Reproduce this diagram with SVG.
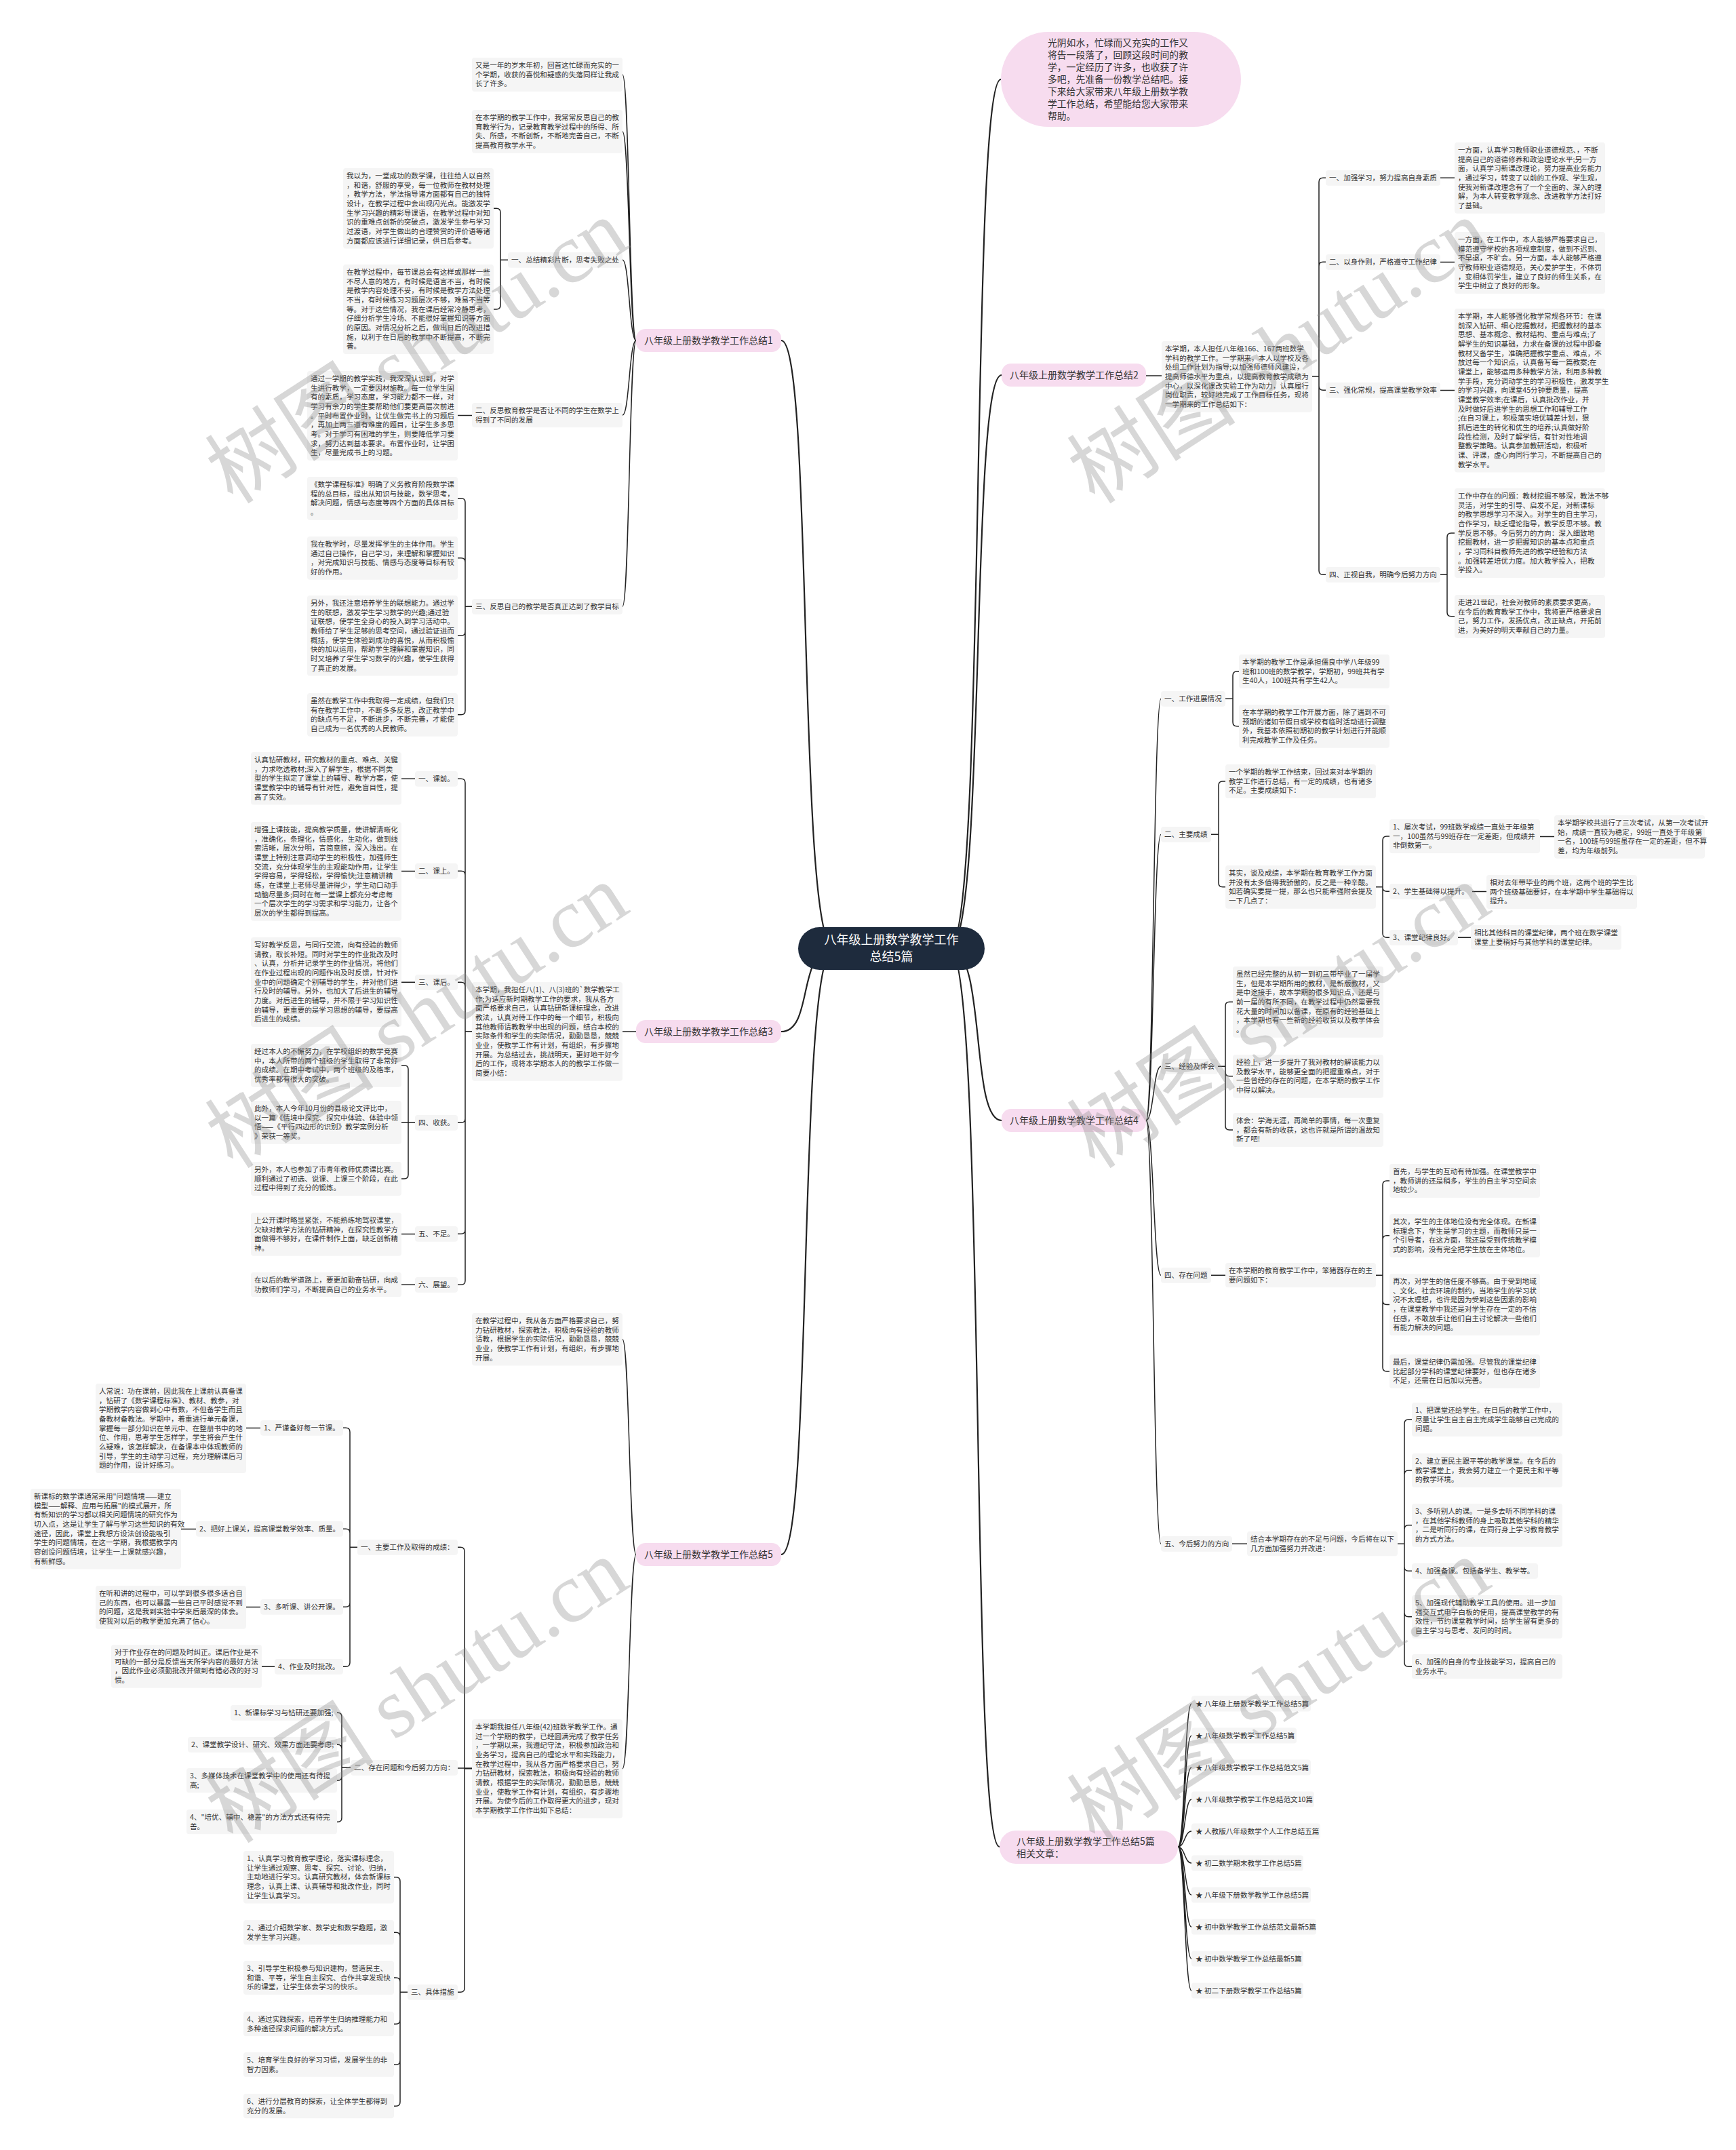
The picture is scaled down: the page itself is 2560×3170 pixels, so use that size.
<svg xmlns="http://www.w3.org/2000/svg" width="2560" height="3170" viewBox="0 0 2560 3170">
<style>
.b{fill:#f5f5f5}
.t{font-family:"Noto Sans CJK SC","Noto Sans",sans-serif;font-size:10.6px;fill:#333}
.n{fill:#f7dcef}
.nt{font-family:"Noto Sans CJK SC","Noto Sans",sans-serif;font-size:14px;fill:#333}
.c{fill:none;stroke:#222;stroke-width:1.5}
.cm{fill:none;stroke:#222;stroke-width:2.2}
.wm{font-family:"Liberation Serif","Noto Sans CJK SC",serif;font-size:125px;fill:#888;opacity:0.33}
</style>
<rect width="2560" height="3170" fill="#fff"/>
<g id="connectors">
<path class="cm" d="M1400 1398 C1455 1398 1430 117 1476 117"/>
<path class="cm" d="M1400 1398 C1455 1398 1430 553 1477 553"/>
<path class="cm" d="M1400 1398 C1455 1398 1430 1652 1477 1652"/>
<path class="cm" d="M1400 1398 C1455 1398 1430 2723 1474 2723"/>
<path class="cm" d="M1230 1398 C1175 1398 1200 502 1152 502"/>
<path class="cm" d="M1230 1398 C1175 1398 1200 1521 1152 1521"/>
<path class="cm" d="M1230 1398 C1175 1398 1200 2292 1152 2292"/>
<path class="c" d="M938 502 C928 502 928 110 918 110M938 502 C928 502 928 194 918 194M938 502 C928 502 928 383.3 918 383.3M938 502 C928 502 928 612 918 612M938 502 C928 502 928 894.3 918 894.3"/>
<path class="c" d="M749 383.3 H738 V313.2 Q738 307.2 732 307.2 H728M749 383.3 H738 V450 Q738 456 732 456 H728M696 612.5 H675"/>
<path class="c" d="M696 894.3 H686 V740.8 Q686 734.8 680 734.8 H675M696 894.3 H686 V828.8 Q686 822.8 680 822.8 H675M696 894.3 H686 V931.2 Q686 937.2 680 937.2 H675M696 894.3 H686 V1047.8 Q686 1053.8 680 1053.8 H675"/>
<path class="c" d="M938 1521 H918"/>
<path class="c" d="M696 1520.8 H686 V1154.3 Q686 1148.3 680 1148.3 H675M696 1520.8 H686 V1290.3 Q686 1284.3 680 1284.3 H675M696 1520.8 H686 V1454.3 Q686 1448.3 680 1448.3 H675M696 1520.8 H686 V1649.3 Q686 1655.3 680 1655.3 H675M696 1520.8 H686 V1813.3 Q686 1819.3 680 1819.3 H675M696 1520.8 H686 V1888.3 Q686 1894.3 680 1894.3 H675"/>
<path class="c" d="M612 1148.3 H592M612 1284.5 H592M612 1448.2 H592M612 1655.3 H602 V1576.8 Q602 1570.8 596 1570.8 H592M612 1655.3 H592M612 1655.3 H602 V1732 Q602 1738 596 1738 H592M612 1819.5 H592M612 1894.3 H592"/>
<path class="c" d="M938 2292 C928 2292 928 1974.7 918 1974.7M938 2292 C928 2292 928 2607.8 918 2607.8"/>
<path class="c" d="M696 2607.8 H685 V2287.3 Q685 2281.3 679 2281.3 H675M696 2607 H675M696 2607.8 H685 V2931.3 Q685 2937.3 679 2937.3 H675"/>
<path class="c" d="M527 2281.3 H516 V2111.3 Q516 2105.3 510 2105.3 H506M527 2281.3 H516 V2260.3 Q516 2254.3 510 2254.3 H506M527 2281.3 H516 V2363.3 Q516 2369.3 510 2369.3 H506M527 2281.3 H516 V2451.3 Q516 2457.3 510 2457.3 H506"/>
<path class="c" d="M384 2105.5 H363M289 2254.5 H267M384 2369.5 H363M405 2457.3 H386"/>
<path class="c" d="M517 2606.3 H504 V2531.3 Q504 2525.3 498 2525.3 H497M517 2606.3 H504 V2578.3 Q504 2572.3 498 2572.3 H497M517 2606.3 H504 V2619.2 Q504 2625.2 498 2625.2 H497M517 2606.3 H504 V2680.2 Q504 2686.2 498 2686.2 H497"/>
<path class="c" d="M601 2937.3 H590 V2773.7 Q590 2767.7 584 2767.7 H581M601 2937.3 H590 V2855.2 Q590 2849.2 584 2849.2 H581M601 2937.3 H590 V2922 Q590 2916 584 2916 H581M601 2937.3 H590 V2978.2 Q590 2984.2 584 2984.2 H581M601 2937.3 H590 V3038.2 Q590 3044.2 584 3044.2 H581M601 2937.3 H590 V3099.2 Q590 3105.2 584 3105.2 H581"/>
<path class="c" d="M1690 554 H1713"/>
<path class="c" d="M1935 555 H1945 V268.3 Q1945 262.3 1951 262.3 H1955M1935 555 H1945 V392.3 Q1945 386.3 1951 386.3 H1955M1935 555 H1945 V569.3 Q1945 575.3 1951 575.3 H1955M1935 555 H1945 V841.3 Q1945 847.3 1951 847.3 H1955"/>
<path class="c" d="M2124 262.3 H2145M2124 386.5 H2145M2124 575.5 H2145M2124 847.3 H2134 V792 Q2134 786 2140 786 H2145M2124 847.3 H2134 V902.8 Q2134 908.8 2140 908.8 H2145"/>
<path class="c" d="M1690 1652 C1701 1652 1701 1030.3 1712 1030.3M1690 1652 C1701 1652 1701 1230.3 1712 1230.3M1690 1652 C1701 1652 1701 1572.3 1712 1572.3M1690 1652 C1701 1652 1701 1880.3 1712 1880.3M1690 1652 C1701 1652 1701 2276.3 1712 2276.3"/>
<path class="c" d="M1807 1030.3 H1818 V996 Q1818 990 1824 990 H1827M1807 1030.3 H1818 V1064.8 Q1818 1070.8 1824 1070.8 H1827"/>
<path class="c" d="M1786 1230.3 H1797 V1158 Q1797 1152 1803 1152 H1807M1786 1230.3 H1797 V1301.8 Q1797 1307.8 1803 1307.8 H1807"/>
<path class="c" d="M2029 1307.8 H2039 V1239 Q2039 1233 2045 1233 H2049M2029 1307.8 H2039 V1308.3 Q2039 1314.3 2045 1314.3 H2049M2029 1307.8 H2039 V1376.3 Q2039 1382.3 2045 1382.3 H2049M2271 1233.5 H2292M2171 1314.6 H2192M2150 1382.3 H2169"/>
<path class="c" d="M1796 1572.3 H1807 V1483.3 Q1807 1477.3 1813 1477.3 H1818M1796 1572.3 H1807 V1580.8 Q1807 1586.8 1813 1586.8 H1818M1796 1572.3 H1807 V1660 Q1807 1666 1813 1666 H1818"/>
<path class="c" d="M1786 1880.3 H1807M2029 1880.2 H2039 V1747 Q2039 1741 2045 1741 H2049M2029 1880.2 H2039 V1827.8 Q2039 1821.8 2045 1821.8 H2049M2029 1880.2 H2039 V1917.5 Q2039 1923.5 2045 1923.5 H2049M2029 1880.2 H2039 V2016 Q2039 2022 2045 2022 H2049"/>
<path class="c" d="M1817 2276.3 H1839M2061 2276.2 H2071 V2099 Q2071 2093 2077 2093 H2082M2061 2276.2 H2071 V2174 Q2071 2168 2077 2168 H2082M2061 2276.2 H2071 V2254.8 Q2071 2248.8 2077 2248.8 H2082M2061 2276.2 H2071 V2310.3 Q2071 2316.3 2077 2316.3 H2082M2061 2276.2 H2071 V2377.8 Q2071 2383.8 2077 2383.8 H2082M2061 2276.2 H2071 V2451.2 Q2071 2457.2 2077 2457.2 H2082"/>
<path class="c" d="M1737 2723 C1747 2723 1747 2512 1757 2512M1737 2723 C1747 2723 1747 2559 1757 2559M1737 2723 C1747 2723 1747 2606 1757 2606M1737 2723 C1747 2723 1747 2653 1757 2653M1737 2723 C1747 2723 1747 2700 1757 2700M1737 2723 C1747 2723 1747 2747 1757 2747M1737 2723 C1747 2723 1747 2794 1757 2794M1737 2723 C1747 2723 1747 2841 1757 2841M1737 2723 C1747 2723 1747 2888 1757 2888M1737 2723 C1747 2723 1747 2935 1757 2935"/>
</g>

<g id="root"><rect x="1177" y="1367" width="275" height="63" rx="31.5" fill="#1e2b3d"/><text x="1314.5" y="1391.8" text-anchor="middle" font-family="Noto Sans CJK SC,sans-serif" font-size="18" fill="#fff"><tspan x="1314.5">八年级上册数学教学工作</tspan><tspan x="1314.5" dy="25">总结5篇</tspan></text></g>

<g id="intro"><rect x="1476" y="47" width="354" height="140" rx="70" class="n"/><text class="nt" x="1545" y="68" style="font-size:13.8px"><tspan x="1545">光阴如水，忙碌而又充实的工作又</tspan><tspan x="1545" dy="18">将告一段落了，回顾这段时间的教</tspan><tspan x="1545" dy="18">学，一定经历了许多，也收获了许</tspan><tspan x="1545" dy="18">多吧，先准备一份教学总结吧。接</tspan><tspan x="1545" dy="18">下来给大家带来八年级上册数学教</tspan><tspan x="1545" dy="18">学工作总结，希望能给您大家带来</tspan><tspan x="1545" dy="18">帮助。</tspan></text></g>

<g id="n1"><rect class="n" x="938" y="485" width="214" height="34" rx="14"/><text class="nt" x="950" y="507.3">八年级上册数学教学工作总结1</text></g>
<g id="n2"><rect class="n" x="1477" y="536" width="213" height="34" rx="14"/><text class="nt" x="1489" y="558.3">八年级上册数学教学工作总结2</text></g>
<g id="n3"><rect class="n" x="938" y="1504" width="214" height="34" rx="14"/><text class="nt" x="950" y="1526.3">八年级上册数学教学工作总结3</text></g>
<g id="n4"><rect class="n" x="1477" y="1635" width="213" height="34" rx="14"/><text class="nt" x="1489" y="1657.3">八年级上册数学教学工作总结4</text></g>
<g id="n5"><rect class="n" x="938" y="2275" width="214" height="34" rx="14"/><text class="nt" x="950" y="2297.3">八年级上册数学教学工作总结5</text></g>
<g id="n6"><rect class="n" x="1474" y="2699" width="263" height="49" rx="24"/><text class="nt" x="1499" y="2720.3"><tspan x="1499">八年级上册数学教学工作总结5篇</tspan><tspan x="1499" dy="18">相关文章：</tspan></text></g>

<g id="s1-p1"><rect class="b" x="696" y="85" width="222" height="50" rx="4"/><text class="t" x="701" y="100"><tspan x="701">又是一年的岁末年初，回首这忙碌而充实的一</tspan><tspan x="701" dy="13.67">个学期，收获的喜悦和疑惑的失落同样让我成</tspan><tspan x="701" dy="13.67">长了许多。</tspan></text></g>
<g id="s1-p2"><rect class="b" x="696" y="162" width="222" height="63.7" rx="4"/><text class="t" x="701" y="177"><tspan x="701">在本学期的教学工作中，我常常反思自己的教</tspan><tspan x="701" dy="13.67">育教学行为，记录教育教学过程中的所得、所</tspan><tspan x="701" dy="13.67">失、所感，不断创新，不断地完善自己，不断</tspan><tspan x="701" dy="13.67">提高教育教学水平。</tspan></text></g>
<g id="s1-l1"><rect class="b" x="749" y="372" width="169" height="22.7" rx="4"/><text class="t" x="754" y="387">一、总结精彩片断，思考失败之处</text></g>
<g id="s1-p3"><rect class="b" x="506" y="248" width="222" height="118.4" rx="4"/><text class="t" x="511" y="263"><tspan x="511">我以为，一堂成功的数学课，往往给人以自然</tspan><tspan x="511" dy="13.67">，和谐，舒服的享受，每一位教师在教材处理</tspan><tspan x="511" dy="13.67">，教学方法，学法指导诸方面都有自己的独特</tspan><tspan x="511" dy="13.67">设计，在教学过程中会出现闪光点。能激发学</tspan><tspan x="511" dy="13.67">生学习兴趣的精彩导课语，在教学过程中对知</tspan><tspan x="511" dy="13.67">识的重难点创新的突破点，激发学生参与学习</tspan><tspan x="511" dy="13.67">过渡语，对学生做出的合理赞赏的评价语等诸</tspan><tspan x="511" dy="13.67">方面都应该进行详细记录，供日后参考。</tspan></text></g>
<g id="s1-p4"><rect class="b" x="506" y="390" width="222" height="132" rx="4"/><text class="t" x="511" y="405"><tspan x="511">在教学过程中，每节课总会有这样或那样一些</tspan><tspan x="511" dy="13.67">不尽人意的地方，有时候是语言不当，有时候</tspan><tspan x="511" dy="13.67">是教学内容处理不妥，有时候是教学方法处理</tspan><tspan x="511" dy="13.67">不当，有时候练习习题层次不够，难易不当等</tspan><tspan x="511" dy="13.67">等。对于这些情况，我在课后经常冷静思考，</tspan><tspan x="511" dy="13.67">仔细分析学生冷场、不能很好掌握知识等方面</tspan><tspan x="511" dy="13.67">的原因。对情况分析之后，做出日后的改进措</tspan><tspan x="511" dy="13.67">施，以利于在日后的教学中不断提高，不断完</tspan><tspan x="511" dy="13.67">善。</tspan></text></g>
<g id="s1-l2"><rect class="b" x="696" y="594" width="222" height="36.3" rx="4"/><text class="t" x="701" y="609"><tspan x="701">二、反思教育教学是否让不同的学生在数学上</tspan><tspan x="701" dy="13.67">得到了不同的发展</tspan></text></g>
<g id="s1-p5"><rect class="b" x="453" y="547" width="222" height="132" rx="4"/><text class="t" x="458" y="562"><tspan x="458">通过一学期的教学实践，我深深认识到，对学</tspan><tspan x="458" dy="13.67">生进行教学，一定要因材施教。每一位学生固</tspan><tspan x="458" dy="13.67">有的素质，学习态度，学习能力都不一样，对</tspan><tspan x="458" dy="13.67">学习有余力的学生要帮助他们要更高层次前进</tspan><tspan x="458" dy="13.67">。平时布置作业时，让优生做完书上的习题后</tspan><tspan x="458" dy="13.67">，再加上两三道有难度的题目，让学生多多思</tspan><tspan x="458" dy="13.67">考。对于学习有困难的学生，则要降低学习要</tspan><tspan x="458" dy="13.67">求，努力达到基本要求。布置作业时，让学困</tspan><tspan x="458" dy="13.67">生，尽量完成书上的习题。</tspan></text></g>
<g id="s1-l3"><rect class="b" x="696" y="883" width="222" height="22.7" rx="4"/><text class="t" x="701" y="898">三、反思自己的教学是否真正达到了教学目标</text></g>
<g id="s1-p6"><rect class="b" x="453" y="703" width="222" height="63.7" rx="4"/><text class="t" x="458" y="718"><tspan x="458">《数学课程标准》明确了义务教育阶段数学课</tspan><tspan x="458" dy="13.67">程的总目标，提出从知识与技能，数学思考，</tspan><tspan x="458" dy="13.67">解决问题，情感与态度等四个方面的具体目标</tspan><tspan x="458" dy="13.67">。</tspan></text></g>
<g id="s1-p7"><rect class="b" x="453" y="791" width="222" height="63.7" rx="4"/><text class="t" x="458" y="806"><tspan x="458">我在教学时，尽量发挥学生的主体作用。学生</tspan><tspan x="458" dy="13.67">通过自己操作，自己学习，来理解和掌握知识</tspan><tspan x="458" dy="13.67">，对完成知识与技能、情感与态度等目标有较</tspan><tspan x="458" dy="13.67">好的作用。</tspan></text></g>
<g id="s1-p8"><rect class="b" x="453" y="878" width="222" height="118.4" rx="4"/><text class="t" x="458" y="893"><tspan x="458">另外，我还注意培养学生的联想能力。通过学</tspan><tspan x="458" dy="13.67">生的联想，激发学生学习数学的兴趣;通过验</tspan><tspan x="458" dy="13.67">证联想，使学生全身心的投入到学习活动中。</tspan><tspan x="458" dy="13.67">教师给了学生足够的思考空间，通过验证进而</tspan><tspan x="458" dy="13.67">概括，使学生体验到成功的喜悦，从而积极愉</tspan><tspan x="458" dy="13.67">快的加以运用，帮助学生理解和掌握知识，同</tspan><tspan x="458" dy="13.67">时又培养了学生学习数学的兴趣，使学生获得</tspan><tspan x="458" dy="13.67">了真正的发展。</tspan></text></g>
<g id="s1-p9"><rect class="b" x="453" y="1022" width="222" height="63.7" rx="4"/><text class="t" x="458" y="1037"><tspan x="458">虽然在教学工作中我取得一定成绩，但我们只</tspan><tspan x="458" dy="13.67">有在教学工作中，不断多多反思，改正教学中</tspan><tspan x="458" dy="13.67">的缺点与不足，不断进步，不断完善，才能使</tspan><tspan x="458" dy="13.67">自己成为一名优秀的人民教师。</tspan></text></g>

<g id="s3-p0"><rect class="b" x="696" y="1448" width="222" height="145.7" rx="4"/><text class="t" x="701" y="1463"><tspan x="701">本学期，我担任八(1)、八(3)班的`数学教学工</tspan><tspan x="701" dy="13.67">作;为适应新时期教学工作的要求，我从各方</tspan><tspan x="701" dy="13.67">面严格要求自己，认真钻研新课标理念，改进</tspan><tspan x="701" dy="13.67">教法，认真对待工作中的每一个细节，积极向</tspan><tspan x="701" dy="13.67">其他教师请教教学中出现的问题，结合本校的</tspan><tspan x="701" dy="13.67">实际条件和学生的实际情况，勤勤恳恳，兢兢</tspan><tspan x="701" dy="13.67">业业，使教学工作有计划，有组织，有步骤地</tspan><tspan x="701" dy="13.67">开展。为总结过去，挑战明天，更好地干好今</tspan><tspan x="701" dy="13.67">后的工作，现将本学期本人的的教学工作做一</tspan><tspan x="701" dy="13.67">简要小结：</tspan></text></g>
<g id="s3-l1"><rect class="b" x="612" y="1137" width="63" height="22.7" rx="4"/><text class="t" x="617" y="1152">一、课前。</text></g>
<g id="s3-l2"><rect class="b" x="612" y="1273" width="63" height="22.7" rx="4"/><text class="t" x="617" y="1288">二、课上。</text></g>
<g id="s3-l3"><rect class="b" x="612" y="1437" width="63" height="22.7" rx="4"/><text class="t" x="617" y="1452">三、课后。</text></g>
<g id="s3-l4"><rect class="b" x="612" y="1644" width="63" height="22.7" rx="4"/><text class="t" x="617" y="1659">四、收获。</text></g>
<g id="s3-l5"><rect class="b" x="612" y="1808" width="63" height="22.7" rx="4"/><text class="t" x="617" y="1823">五、不足。</text></g>
<g id="s3-l6"><rect class="b" x="612" y="1883" width="63" height="22.7" rx="4"/><text class="t" x="617" y="1898">六、展望。</text></g>
<g id="s3-p1"><rect class="b" x="370" y="1109" width="222" height="77.4" rx="4"/><text class="t" x="375" y="1124"><tspan x="375">认真钻研教材，研究教材的重点、难点、关键</tspan><tspan x="375" dy="13.67">，力求吃透教材;深入了解学生，根据不同类</tspan><tspan x="375" dy="13.67">型的学生拟定了课堂上的辅导、教学方案，使</tspan><tspan x="375" dy="13.67">课堂教学中的辅导有针对性，避免盲目性，提</tspan><tspan x="375" dy="13.67">高了实效。</tspan></text></g>
<g id="s3-p2"><rect class="b" x="370" y="1212" width="222" height="145.7" rx="4"/><text class="t" x="375" y="1227"><tspan x="375">增强上课技能，提高教学质量，使讲解清晰化</tspan><tspan x="375" dy="13.67">，准确化，条理化，情感化，生动化，做到线</tspan><tspan x="375" dy="13.67">索清晰，层次分明，言简意赅，深入浅出。在</tspan><tspan x="375" dy="13.67">课堂上特别注意调动学生的积极性，加强师生</tspan><tspan x="375" dy="13.67">交流，充分体现学生的主观能动作用，让学生</tspan><tspan x="375" dy="13.67">学得容易，学得轻松，学得愉快;注意精讲精</tspan><tspan x="375" dy="13.67">练，在课堂上老师尽量讲得少，学生动口动手</tspan><tspan x="375" dy="13.67">动脑尽量多;同时在每一堂课上都充分考虑每</tspan><tspan x="375" dy="13.67">一个层次学生的学习需求和学习能力，让各个</tspan><tspan x="375" dy="13.67">层次的学生都得到提高。</tspan></text></g>
<g id="s3-p3"><rect class="b" x="370" y="1382" width="222" height="132" rx="4"/><text class="t" x="375" y="1397"><tspan x="375">写好教学反思，与同行交流，向有经验的教师</tspan><tspan x="375" dy="13.67">请教，取长补短。同时对学生的作业批改及时</tspan><tspan x="375" dy="13.67">、认真，分析并记录学生的作业情况，将他们</tspan><tspan x="375" dy="13.67">在作业过程出现的问题作出及时反馈，针对作</tspan><tspan x="375" dy="13.67">业中的问题确定个别辅导的学生，并对他们进</tspan><tspan x="375" dy="13.67">行及时的辅导。另外，也加大了后进生的辅导</tspan><tspan x="375" dy="13.67">力度。对后进生的辅导，并不限于学习知识性</tspan><tspan x="375" dy="13.67">的辅导，更重要的是学习思想的辅导，要提高</tspan><tspan x="375" dy="13.67">后进生的成绩。</tspan></text></g>
<g id="s3-p4"><rect class="b" x="370" y="1539" width="222" height="63.7" rx="4"/><text class="t" x="375" y="1554"><tspan x="375">经过本人的不懈努力，在学校组织的数学竞赛</tspan><tspan x="375" dy="13.67">中，本人所带的两个班级的学生取得了非常好</tspan><tspan x="375" dy="13.67">的成绩。在期中考试中，两个班级的及格率，</tspan><tspan x="375" dy="13.67">优秀率都有很大的突破。</tspan></text></g>
<g id="s3-p5"><rect class="b" x="370" y="1623" width="222" height="63.7" rx="4"/><text class="t" x="375" y="1638"><tspan x="375">此外，本人今年10月份的县级论文评比中，</tspan><tspan x="375" dy="13.67">以一篇《情境中探究、探究中体验、体验中领</tspan><tspan x="375" dy="13.67">悟——《平行四边形的识别》教学案例分析</tspan><tspan x="375" dy="13.67">》荣获一等奖。</tspan></text></g>
<g id="s3-p6"><rect class="b" x="370" y="1713" width="222" height="50" rx="4"/><text class="t" x="375" y="1728"><tspan x="375">另外，本人也参加了市青年教师优质课比赛。</tspan><tspan x="375" dy="13.67">顺利通过了初选、说课、上课三个阶段，在此</tspan><tspan x="375" dy="13.67">过程中得到了充分的锻炼。</tspan></text></g>
<g id="s3-p7"><rect class="b" x="370" y="1788" width="222" height="63.7" rx="4"/><text class="t" x="375" y="1803"><tspan x="375">上公开课时略显紧张，不能熟练地驾驭课堂，</tspan><tspan x="375" dy="13.67">欠缺对教学方法的钻研精神，在探究性教学方</tspan><tspan x="375" dy="13.67">面做得不够好，在课件制作上面，缺乏创新精</tspan><tspan x="375" dy="13.67">神。</tspan></text></g>
<g id="s3-p8"><rect class="b" x="370" y="1876" width="222" height="36.3" rx="4"/><text class="t" x="375" y="1891"><tspan x="375">在以后的教学道路上，要更加勤奋钻研，向成</tspan><tspan x="375" dy="13.67">功教师们学习，不断提高自己的业务水平。</tspan></text></g>

<g id="s5-p1"><rect class="b" x="696" y="1936" width="222" height="77.4" rx="4"/><text class="t" x="701" y="1951"><tspan x="701">在教学过程中，我从各方面严格要求自己，努</tspan><tspan x="701" dy="13.67">力钻研教材，探索教法，积极向有经验的教师</tspan><tspan x="701" dy="13.67">请教，根据学生的实际情况，勤勤恳恳，兢兢</tspan><tspan x="701" dy="13.67">业业，使教学工作有计划，有组织，有步骤地</tspan><tspan x="701" dy="13.67">开展。</tspan></text></g>
<g id="s5-p2"><rect class="b" x="696" y="2535" width="222" height="145.7" rx="4"/><text class="t" x="701" y="2550"><tspan x="701">本学期我担任八年级(42)班数学教学工作。通</tspan><tspan x="701" dy="13.67">过一个学期的教学，已经圆满完成了教学任务</tspan><tspan x="701" dy="13.67">，一学期以来，我遵纪守法，积极参加政治和</tspan><tspan x="701" dy="13.67">业务学习，提高自己的理论水平和实践能力，</tspan><tspan x="701" dy="13.67">在教学过程中，我从各方面严格要求自己，努</tspan><tspan x="701" dy="13.67">力钻研教材，探索教法，积极向有经验的教师</tspan><tspan x="701" dy="13.67">请教，根据学生的实际情况，勤勤恳恳，兢兢</tspan><tspan x="701" dy="13.67">业业，使教学工作有计划，有组织，有步骤地</tspan><tspan x="701" dy="13.67">开展。为使今后的工作取得更大的进步，现对</tspan><tspan x="701" dy="13.67">本学期教学工作作出如下总结：</tspan></text></g>
<g id="s5-l1"><rect class="b" x="527" y="2270" width="148" height="22.7" rx="4"/><text class="t" x="532" y="2285">一、主要工作及取得的成绩：</text></g>
<g id="s5-l2"><rect class="b" x="517" y="2595" width="158" height="22.7" rx="4"/><text class="t" x="522" y="2610">二、存在问题和今后努力方向：</text></g>
<g id="s5-l3"><rect class="b" x="601" y="2926" width="74" height="22.7" rx="4"/><text class="t" x="606" y="2941">三、具体措施</text></g>
<g id="s5-l1-1"><rect class="b" x="384" y="2094" width="122" height="22.7" rx="4"/><text class="t" x="389" y="2109">1、严谨备好每一节课。</text></g>
<g id="s5-l1-2"><rect class="b" x="289" y="2243" width="217" height="22.7" rx="4"/><text class="t" x="294" y="2258">2、把好上课关，提高课堂教学效率、质量。</text></g>
<g id="s5-l1-3"><rect class="b" x="384" y="2358" width="122" height="22.7" rx="4"/><text class="t" x="389" y="2373">3、多听课、讲公开课。</text></g>
<g id="s5-l1-4"><rect class="b" x="405" y="2446" width="101" height="22.7" rx="4"/><text class="t" x="410" y="2461">4、作业及时批改。</text></g>
<g id="s5-p3"><rect class="b" x="141" y="2040" width="222" height="132" rx="4"/><text class="t" x="146" y="2055"><tspan x="146">人常说：功在课前，因此我在上课前认真备课</tspan><tspan x="146" dy="13.67">，钻研了《数学课程标准》、教材、教参，对</tspan><tspan x="146" dy="13.67">学期教学内容做到心中有数，不但备学生而且</tspan><tspan x="146" dy="13.67">备教材备教法。学期中，着重进行单元备课，</tspan><tspan x="146" dy="13.67">掌握每一部分知识在单元中、在整册书中的地</tspan><tspan x="146" dy="13.67">位、作用，思考学生怎样学，学生将会产生什</tspan><tspan x="146" dy="13.67">么疑难，该怎样解决，在备课本中体现教师的</tspan><tspan x="146" dy="13.67">引导，学生的主动学习过程，充分理解课后习</tspan><tspan x="146" dy="13.67">题的作用，设计好练习。</tspan></text></g>
<g id="s5-p4"><rect class="b" x="45" y="2195" width="222" height="118.4" rx="4"/><text class="t" x="50" y="2210"><tspan x="50">新课标的数学课通常采用"问题情境——建立</tspan><tspan x="50" dy="13.67">模型——解释、应用与拓展"的模式展开，所</tspan><tspan x="50" dy="13.67">有新知识的学习都以相关问题情境的研究作为</tspan><tspan x="50" dy="13.67">切入点，这是让学生了解与学习这些知识的有效</tspan><tspan x="50" dy="13.67">途径，因此，课堂上我想方设法创设能吸引</tspan><tspan x="50" dy="13.67">学生的问题情境，在这一学期，我根据教学内</tspan><tspan x="50" dy="13.67">容创设问题情境，让学生一上课就感兴趣，</tspan><tspan x="50" dy="13.67">有新鲜感。</tspan></text></g>
<g id="s5-p5"><rect class="b" x="141" y="2338" width="222" height="63.7" rx="4"/><text class="t" x="146" y="2353"><tspan x="146">在听和讲的过程中，可以学到很多很多适合自</tspan><tspan x="146" dy="13.67">己的东西，也可以暴露一些自己平时感觉不到</tspan><tspan x="146" dy="13.67">的问题，这是我到实验中学来后最深的体会。</tspan><tspan x="146" dy="13.67">使我对以后的教学更加充满了信心。</tspan></text></g>
<g id="s5-p6"><rect class="b" x="164" y="2425" width="222" height="63.7" rx="4"/><text class="t" x="169" y="2440"><tspan x="169">对于作业存在的问题及时纠正。课后作业是不</tspan><tspan x="169" dy="13.67">可缺的一部分是反馈当天所学内容的最好方法</tspan><tspan x="169" dy="13.67">，因此作业必须勤批改并做到有错必改的好习</tspan><tspan x="169" dy="13.67">惯。</tspan></text></g>
<g id="s5-l2-1"><rect class="b" x="340" y="2514" width="157" height="22.7" rx="4"/><text class="t" x="345" y="2529">1、新课标学习与钻研还要加强;</text></g>
<g id="s5-l2-2"><rect class="b" x="277" y="2561" width="220" height="22.7" rx="4"/><text class="t" x="282" y="2576">2、课堂教学设计、研究、效果方面还要考虑;</text></g>
<g id="s5-l2-3"><rect class="b" x="275" y="2607" width="222" height="36.3" rx="4"/><text class="t" x="280" y="2622"><tspan x="280">3、多媒体技术在课堂教学中的使用还有待提</tspan><tspan x="280" dy="13.67">高;</tspan></text></g>
<g id="s5-l2-4"><rect class="b" x="275" y="2668" width="222" height="36.3" rx="4"/><text class="t" x="280" y="2683"><tspan x="280">4、"培优、辅中、稳差"的方法方式还有待完</tspan><tspan x="280" dy="13.67">善。</tspan></text></g>
<g id="s5-m1"><rect class="b" x="359" y="2729" width="222" height="77.4" rx="4"/><text class="t" x="364" y="2744"><tspan x="364">1、认真学习教育教学理论，落实课标理念，</tspan><tspan x="364" dy="13.67">让学生通过观察、思考、探究、讨论、归纳，</tspan><tspan x="364" dy="13.67">主动地进行学习。认真研究教材，体会新课标</tspan><tspan x="364" dy="13.67">理念，认真上课、认真辅导和批改作业，同时</tspan><tspan x="364" dy="13.67">让学生认真学习。</tspan></text></g>
<g id="s5-m2"><rect class="b" x="359" y="2831" width="222" height="36.3" rx="4"/><text class="t" x="364" y="2846"><tspan x="364">2、通过介绍数学家、数学史和数学趣题，激</tspan><tspan x="364" dy="13.67">发学生学习兴趣。</tspan></text></g>
<g id="s5-m3"><rect class="b" x="359" y="2891" width="222" height="50" rx="4"/><text class="t" x="364" y="2906"><tspan x="364">3、引导学生积极参与知识建构，营造民主、</tspan><tspan x="364" dy="13.67">和谐、平等，学生自主探究、合作共享发现快</tspan><tspan x="364" dy="13.67">乐的课堂，让学生体会学习的快乐。</tspan></text></g>
<g id="s5-m4"><rect class="b" x="359" y="2966" width="222" height="36.3" rx="4"/><text class="t" x="364" y="2981"><tspan x="364">4、通过实践探索，培养学生归纳推理能力和</tspan><tspan x="364" dy="13.67">多种途径探求问题的解决方式。</tspan></text></g>
<g id="s5-m5"><rect class="b" x="359" y="3026" width="222" height="36.3" rx="4"/><text class="t" x="364" y="3041"><tspan x="364">5、培育学生良好的学习习惯，发展学生的非</tspan><tspan x="364" dy="13.67">智力因素。</tspan></text></g>
<g id="s5-m6"><rect class="b" x="359" y="3087" width="222" height="36.3" rx="4"/><text class="t" x="364" y="3102"><tspan x="364">6、进行分层教育的探索，让全体学生都得到</tspan><tspan x="364" dy="13.67">充分的发展。</tspan></text></g>

<g id="s2-p0"><rect class="b" x="1713" y="503" width="222" height="104.7" rx="4"/><text class="t" x="1718" y="518"><tspan x="1718">本学期，本人担任八年级166、167两班数学</tspan><tspan x="1718" dy="13.67">学科的教学工作。一学期来，本人以学校及各</tspan><tspan x="1718" dy="13.67">处组工作计划为指导;以加强师德师风建设，</tspan><tspan x="1718" dy="13.67">提高师德水平为重点，以提高教育教学成绩为</tspan><tspan x="1718" dy="13.67">中心，以深化课改实验工作为动力，认真履行</tspan><tspan x="1718" dy="13.67">岗位职责，较好地完成了工作目标任务，现将</tspan><tspan x="1718" dy="13.67">一学期来的工作总结如下：</tspan></text></g>
<g id="s2-l1"><rect class="b" x="1955" y="251" width="169" height="22.7" rx="4"/><text class="t" x="1960" y="266">一、加强学习，努力提高自身素质</text></g>
<g id="s2-l2"><rect class="b" x="1955" y="375" width="169" height="22.7" rx="4"/><text class="t" x="1960" y="390">二、以身作则，严格遵守工作纪律</text></g>
<g id="s2-l3"><rect class="b" x="1955" y="564" width="169" height="22.7" rx="4"/><text class="t" x="1960" y="579">三、强化常规，提高课堂教学效率</text></g>
<g id="s2-l4"><rect class="b" x="1955" y="836" width="169" height="22.7" rx="4"/><text class="t" x="1960" y="851">四、正视自我，明确今后努力方向</text></g>
<g id="s2-p1"><rect class="b" x="2145" y="210" width="222" height="104.7" rx="4"/><text class="t" x="2150" y="225"><tspan x="2150">一方面，认真学习教师职业道德规范、，不断</tspan><tspan x="2150" dy="13.67">提高自己的道德修养和政治理论水平;另一方</tspan><tspan x="2150" dy="13.67">面，认真学习新课改理论，努力提高业务能力</tspan><tspan x="2150" dy="13.67">，通过学习，转变了以前的工作观、学生观，</tspan><tspan x="2150" dy="13.67">使我对新课改理念有了一个全面的、深入的理</tspan><tspan x="2150" dy="13.67">解，为本人转变教学观念、改进教学方法打好</tspan><tspan x="2150" dy="13.67">了基础。</tspan></text></g>
<g id="s2-p2"><rect class="b" x="2145" y="342" width="222" height="91" rx="4"/><text class="t" x="2150" y="357"><tspan x="2150">一方面，在工作中，本人能够严格要求自己，</tspan><tspan x="2150" dy="13.67">模范遵守学校的各项规章制度，做到不迟到、</tspan><tspan x="2150" dy="13.67">不早退，不旷会。另一方面，本人能够严格遵</tspan><tspan x="2150" dy="13.67">守教师职业道德规范，关心爱护学生，不体罚</tspan><tspan x="2150" dy="13.67">，变相体罚学生，建立了良好的师生关系，在</tspan><tspan x="2150" dy="13.67">学生中树立了良好的形象。</tspan></text></g>
<g id="s2-p3"><rect class="b" x="2145" y="455" width="222" height="241.4" rx="4"/><text class="t" x="2150" y="470"><tspan x="2150">本学期，本人能够强化教学常规各环节：在课</tspan><tspan x="2150" dy="13.67">前深入钻研、细心挖掘教材，把握教材的基本</tspan><tspan x="2150" dy="13.67">思想、基本概念、教材结构、重点与难点;了</tspan><tspan x="2150" dy="13.67">解学生的知识基础，力求在备课的过程中即备</tspan><tspan x="2150" dy="13.67">教材又备学生，准确把握教学重点、难点，不</tspan><tspan x="2150" dy="13.67">放过每一个知识点，认真备写每一篇教案;在</tspan><tspan x="2150" dy="13.67">课堂上，能够运用多种教学方法，利用多种教</tspan><tspan x="2150" dy="13.67">学手段，充分调动学生的学习积极性，激发学生</tspan><tspan x="2150" dy="13.67">的学习兴趣，向课堂45分钟要质量，提高</tspan><tspan x="2150" dy="13.67">课堂教学效率;在课后，认真批改作业，并</tspan><tspan x="2150" dy="13.67">及时做好后进学生的思想工作和辅导工作</tspan><tspan x="2150" dy="13.67">;在自习课上，积极落实培优辅差计划，狠</tspan><tspan x="2150" dy="13.67">抓后进生的转化和优生的培养;认真做好阶</tspan><tspan x="2150" dy="13.67">段性检测，及时了解学情，有针对性地调</tspan><tspan x="2150" dy="13.67">整教学策略。认真参加教研活动，积极听</tspan><tspan x="2150" dy="13.67">课、评课，虚心向同行学习，不断提高自己的</tspan><tspan x="2150" dy="13.67">教学水平。</tspan></text></g>
<g id="s2-p4"><rect class="b" x="2145" y="720" width="222" height="132" rx="4"/><text class="t" x="2150" y="735"><tspan x="2150">工作中存在的问题：教材挖掘不够深，教法不够</tspan><tspan x="2150" dy="13.67">灵活，对学生的引导、启发不足，对新课标</tspan><tspan x="2150" dy="13.67">的教学思想学习不深入。对学生的自主学习，</tspan><tspan x="2150" dy="13.67">合作学习，缺乏理论指导，教学反思不够。教</tspan><tspan x="2150" dy="13.67">学反思不够。今后努力的方向：深入细致地</tspan><tspan x="2150" dy="13.67">挖掘教材，进一步把握知识的基本点和重点</tspan><tspan x="2150" dy="13.67">，学习同科目教师先进的教学经验和方法</tspan><tspan x="2150" dy="13.67">。加强转差培优力度。加大教学投入，把教</tspan><tspan x="2150" dy="13.67">学投入。</tspan></text></g>
<g id="s2-p5"><rect class="b" x="2145" y="877" width="222" height="63.7" rx="4"/><text class="t" x="2150" y="892"><tspan x="2150">走进21世纪，社会对教师的素质要求更高，</tspan><tspan x="2150" dy="13.67">在今后的教育教学工作中，我将更严格要求自</tspan><tspan x="2150" dy="13.67">己，努力工作，发扬优点，改正缺点，开拓前</tspan><tspan x="2150" dy="13.67">进，为美好的明天奉献自己的力量。</tspan></text></g>

<g id="s4-l1"><rect class="b" x="1712" y="1019" width="95" height="22.7" rx="4"/><text class="t" x="1717" y="1034">一、工作进展情况</text></g>
<g id="s4-l2"><rect class="b" x="1712" y="1219" width="74" height="22.7" rx="4"/><text class="t" x="1717" y="1234">二、主要成绩</text></g>
<g id="s4-l3"><rect class="b" x="1712" y="1561" width="84" height="22.7" rx="4"/><text class="t" x="1717" y="1576">三、经验及体会</text></g>
<g id="s4-l4"><rect class="b" x="1712" y="1869" width="74" height="22.7" rx="4"/><text class="t" x="1717" y="1884">四、存在问题</text></g>
<g id="s4-l5"><rect class="b" x="1712" y="2265" width="105" height="22.7" rx="4"/><text class="t" x="1717" y="2280">五、今后努力的方向</text></g>
<g id="s4-p1"><rect class="b" x="1827" y="965" width="222" height="50" rx="4"/><text class="t" x="1832" y="980"><tspan x="1832">本学期的教学工作是承担儒良中学八年级99</tspan><tspan x="1832" dy="13.67">班和100班的数学教学，学期初，99班共有学</tspan><tspan x="1832" dy="13.67">生40人，100班共有学生42人。</tspan></text></g>
<g id="s4-p2"><rect class="b" x="1827" y="1039" width="222" height="63.7" rx="4"/><text class="t" x="1832" y="1054"><tspan x="1832">在本学期的教学工作开展方面，除了遇到不可</tspan><tspan x="1832" dy="13.67">预期的诸如节假日或学校有临时活动进行调整</tspan><tspan x="1832" dy="13.67">外，我基本依照初期初的教学计划进行并能顺</tspan><tspan x="1832" dy="13.67">利完成教学工作及任务。</tspan></text></g>
<g id="s4-p3"><rect class="b" x="1807" y="1127" width="222" height="50" rx="4"/><text class="t" x="1812" y="1142"><tspan x="1812">一个学期的教学工作结束，回过来对本学期的</tspan><tspan x="1812" dy="13.67">教学工作进行总结，有一定的成绩，也有诸多</tspan><tspan x="1812" dy="13.67">不足。主要成绩如下：</tspan></text></g>
<g id="s4-p4"><rect class="b" x="1807" y="1276" width="222" height="63.7" rx="4"/><text class="t" x="1812" y="1291"><tspan x="1812">其实，谈及成绩，本学期在教育教学工作方面</tspan><tspan x="1812" dy="13.67">并没有太多值得我骄傲的，反之是一种辛酸。</tspan><tspan x="1812" dy="13.67">如若确实要提一提，那么也只能牵强附会提及</tspan><tspan x="1812" dy="13.67">一下几点了：</tspan></text></g>
<g id="s4-l2-1"><rect class="b" x="2049" y="1208" width="222" height="50" rx="4"/><text class="t" x="2054" y="1223"><tspan x="2054">1、屡次考试，99班数学成绩一直处于年级第</tspan><tspan x="2054" dy="13.67">一，100虽然与99班存在一定差距，但成绩并</tspan><tspan x="2054" dy="13.67">非倒数第一。</tspan></text></g>
<g id="s4-l2-2"><rect class="b" x="2049" y="1303" width="122" height="22.7" rx="4"/><text class="t" x="2054" y="1318">2、学生基础得以提升。</text></g>
<g id="s4-l2-3"><rect class="b" x="2049" y="1371" width="101" height="22.7" rx="4"/><text class="t" x="2054" y="1386">3、课堂纪律良好。</text></g>
<g id="s4-p5"><rect class="b" x="2292" y="1202" width="222" height="63.7" rx="4"/><text class="t" x="2297" y="1217"><tspan x="2297">本学期学校共进行了三次考试，从第一次考试开</tspan><tspan x="2297" dy="13.67">始，成绩一直较为稳定，99班一直处于年级第</tspan><tspan x="2297" dy="13.67">一名，100班与99班虽存在一定的差距，但不算</tspan><tspan x="2297" dy="13.67">差，均为年级前列。</tspan></text></g>
<g id="s4-p6"><rect class="b" x="2192" y="1290" width="222" height="50" rx="4"/><text class="t" x="2197" y="1305"><tspan x="2197">相对去年带毕业的两个班，这两个班的学生比</tspan><tspan x="2197" dy="13.67">两个班级基础要好，在本学期中学生基础得以</tspan><tspan x="2197" dy="13.67">提升。</tspan></text></g>
<g id="s4-p7"><rect class="b" x="2169" y="1364" width="222" height="36.3" rx="4"/><text class="t" x="2174" y="1379"><tspan x="2174">相比其他科目的课堂纪律，两个班在数学课堂</tspan><tspan x="2174" dy="13.67">课堂上要稍好与其他学科的课堂纪律。</tspan></text></g>
<g id="s4-p8"><rect class="b" x="1818" y="1425" width="222" height="104.7" rx="4"/><text class="t" x="1823" y="1440"><tspan x="1823">虽然已经完整的从初一到初三带毕业了一届学</tspan><tspan x="1823" dy="13.67">生，但是本学期所用的教材，是新版教材，又</tspan><tspan x="1823" dy="13.67">是中途接手，故本学期的很多知识点，还是与</tspan><tspan x="1823" dy="13.67">前一届的有所不同，在教学过程中仍然需要我</tspan><tspan x="1823" dy="13.67">花大量的时间加以备课，在原有的经验基础上</tspan><tspan x="1823" dy="13.67">，本学期也有一些新的经验收货以及教学体会</tspan><tspan x="1823" dy="13.67">。</tspan></text></g>
<g id="s4-p9"><rect class="b" x="1818" y="1555" width="222" height="63.7" rx="4"/><text class="t" x="1823" y="1570"><tspan x="1823">经验上，进一步提升了我对教材的解读能力以</tspan><tspan x="1823" dy="13.67">及教学水平，能够更全面的把握重难点，对于</tspan><tspan x="1823" dy="13.67">一些曾经的存在的问题，在本学期的教学工作</tspan><tspan x="1823" dy="13.67">中得以解决。</tspan></text></g>
<g id="s4-p10"><rect class="b" x="1818" y="1641" width="222" height="50" rx="4"/><text class="t" x="1823" y="1656"><tspan x="1823">体会：学海无涯，再简单的事情，每一次重复</tspan><tspan x="1823" dy="13.67">，都会有新的收获，这也许就是所谓的温故知</tspan><tspan x="1823" dy="13.67">新了吧!</tspan></text></g>
<g id="s4-p11"><rect class="b" x="1807" y="1862" width="222" height="36.3" rx="4"/><text class="t" x="1812" y="1877"><tspan x="1812">在本学期的教育教学工作中，笨猪器存在的主</tspan><tspan x="1812" dy="13.67">要问题如下：</tspan></text></g>
<g id="s4-p12"><rect class="b" x="2049" y="1716" width="222" height="50" rx="4"/><text class="t" x="2054" y="1731"><tspan x="2054">首先，与学生的互动有待加强。在课堂教学中</tspan><tspan x="2054" dy="13.67">，教师讲的还是稍多，学生的自主学习空间余</tspan><tspan x="2054" dy="13.67">地较少。</tspan></text></g>
<g id="s4-p13"><rect class="b" x="2049" y="1790" width="222" height="63.7" rx="4"/><text class="t" x="2054" y="1805"><tspan x="2054">其次，学生的主体地位没有完全体现。在新课</tspan><tspan x="2054" dy="13.67">标理念下，学生是学习的主题，而教师只是一</tspan><tspan x="2054" dy="13.67">个引导者，在这方面，我还是受到传统教学模</tspan><tspan x="2054" dy="13.67">式的影响，没有完全把学生放在主体地位。</tspan></text></g>
<g id="s4-p14"><rect class="b" x="2049" y="1878" width="222" height="91" rx="4"/><text class="t" x="2054" y="1893"><tspan x="2054">再次，对学生的信任度不够高。由于受到地域</tspan><tspan x="2054" dy="13.67">、文化、社会环境的制约，当地学生的学习状</tspan><tspan x="2054" dy="13.67">况不太理想，也许是因为受到这些因素的影响</tspan><tspan x="2054" dy="13.67">，在课堂教学中我还是对学生存在一定的不信</tspan><tspan x="2054" dy="13.67">任感，不敢放手让他们自主讨论解决一些他们</tspan><tspan x="2054" dy="13.67">有能力解决的问题。</tspan></text></g>
<g id="s4-p15"><rect class="b" x="2049" y="1997" width="222" height="50" rx="4"/><text class="t" x="2054" y="2012"><tspan x="2054">最后，课堂纪律仍需加强。尽管我的课堂纪律</tspan><tspan x="2054" dy="13.67">比起部分学科的课堂纪律要好，但也存在诸多</tspan><tspan x="2054" dy="13.67">不足，还需在日后加以完善。</tspan></text></g>
<g id="s4-p16"><rect class="b" x="1839" y="2258" width="222" height="36.3" rx="4"/><text class="t" x="1844" y="2273"><tspan x="1844">结合本学期存在的不足与问题，今后将在以下</tspan><tspan x="1844" dy="13.67">几方面加强努力并改进：</tspan></text></g>
<g id="s4-q1"><rect class="b" x="2082" y="2068" width="222" height="50" rx="4"/><text class="t" x="2087" y="2083"><tspan x="2087">1、把课堂还给学生。在日后的教学工作中，</tspan><tspan x="2087" dy="13.67">尽量让学生自主自主完成学生能够自己完成的</tspan><tspan x="2087" dy="13.67">问题。</tspan></text></g>
<g id="s4-q2"><rect class="b" x="2082" y="2143" width="222" height="50" rx="4"/><text class="t" x="2087" y="2158"><tspan x="2087">2、建立更民主跟平等的教学课堂。在今后的</tspan><tspan x="2087" dy="13.67">教学课堂上，我会努力建立一个更民主和平等</tspan><tspan x="2087" dy="13.67">的教学环境。</tspan></text></g>
<g id="s4-q3"><rect class="b" x="2082" y="2217" width="222" height="63.7" rx="4"/><text class="t" x="2087" y="2232"><tspan x="2087">3、多听别人的课。一是多去听不同学科的课</tspan><tspan x="2087" dy="13.67">，在其他学科教师的身上吸取其他学科的精华</tspan><tspan x="2087" dy="13.67">，二是听同行的课，在同行身上学习教育教学</tspan><tspan x="2087" dy="13.67">的方式方法。</tspan></text></g>
<g id="s4-q4"><rect class="b" x="2082" y="2305" width="186" height="22.7" rx="4"/><text class="t" x="2087" y="2320">4、加强备课。包括备学生、教学等。</text></g>
<g id="s4-q5"><rect class="b" x="2082" y="2352" width="222" height="63.7" rx="4"/><text class="t" x="2087" y="2367"><tspan x="2087">5、加强现代辅助教学工具的使用。进一步加</tspan><tspan x="2087" dy="13.67">强交互式电子白板的使用，提高课堂教学的有</tspan><tspan x="2087" dy="13.67">效性，节约课堂教学时间，给学生留有更多的</tspan><tspan x="2087" dy="13.67">自主学习与思考、发问的时间。</tspan></text></g>
<g id="s4-q6"><rect class="b" x="2082" y="2439" width="222" height="36.3" rx="4"/><text class="t" x="2087" y="2454"><tspan x="2087">6、加强的自身的专业技能学习，提高自己的</tspan><tspan x="2087" dy="13.67">业务水平。</tspan></text></g>

<g id="related">
<rect class="b" x="1757" y="2500.5" width="176" height="23" rx="4"/><text class="t" x="1763" y="2516">★ 八年级上册数学教学工作总结5篇</text>
<rect class="b" x="1757" y="2547.5" width="155" height="23" rx="4"/><text class="t" x="1763" y="2563">★ 八年级数学教学工作总结5篇</text>
<rect class="b" x="1757" y="2594.5" width="176" height="23" rx="4"/><text class="t" x="1763" y="2610">★ 八年级数学教学工作总结范文5篇</text>
<rect class="b" x="1757" y="2641.5" width="181" height="23" rx="4"/><text class="t" x="1763" y="2657">★ 八年级数学教学工作总结范文10篇</text>
<rect class="b" x="1757" y="2688.5" width="190" height="23" rx="4"/><text class="t" x="1763" y="2704">★ 人教版八年级数学个人工作总结五篇</text>
<rect class="b" x="1757" y="2735.5" width="165" height="23" rx="4"/><text class="t" x="1763" y="2751">★ 初二数学期末教学工作总结5篇</text>
<rect class="b" x="1757" y="2782.5" width="176" height="23" rx="4"/><text class="t" x="1763" y="2798">★ 八年级下册数学教学工作总结5篇</text>
<rect class="b" x="1757" y="2829.5" width="184" height="23" rx="4"/><text class="t" x="1763" y="2845">★ 初中数学教学工作总结范文最新5篇</text>
<rect class="b" x="1757" y="2876.5" width="165" height="23" rx="4"/><text class="t" x="1763" y="2892">★ 初中数学教学工作总结最新5篇</text>
<rect class="b" x="1757" y="2923.5" width="165" height="23" rx="4"/><text class="t" x="1763" y="2939">★ 初二下册数学教学工作总结5篇</text>
</g>

<g id="watermarks">
<text class="wm" transform="translate(344 745) rotate(-33)">树图 shutu.cn</text>
<text class="wm" transform="translate(344 1725) rotate(-33)">树图 shutu.cn</text>
<text class="wm" transform="translate(344 2720) rotate(-33)">树图 shutu.cn</text>
<text class="wm" transform="translate(1615 745) rotate(-33)">树图 shutu.cn</text>
<text class="wm" transform="translate(1615 1725) rotate(-33)">树图 shutu.cn</text>
<text class="wm" transform="translate(1615 2720) rotate(-33)">树图 shutu.cn</text>
</g>
</svg>
